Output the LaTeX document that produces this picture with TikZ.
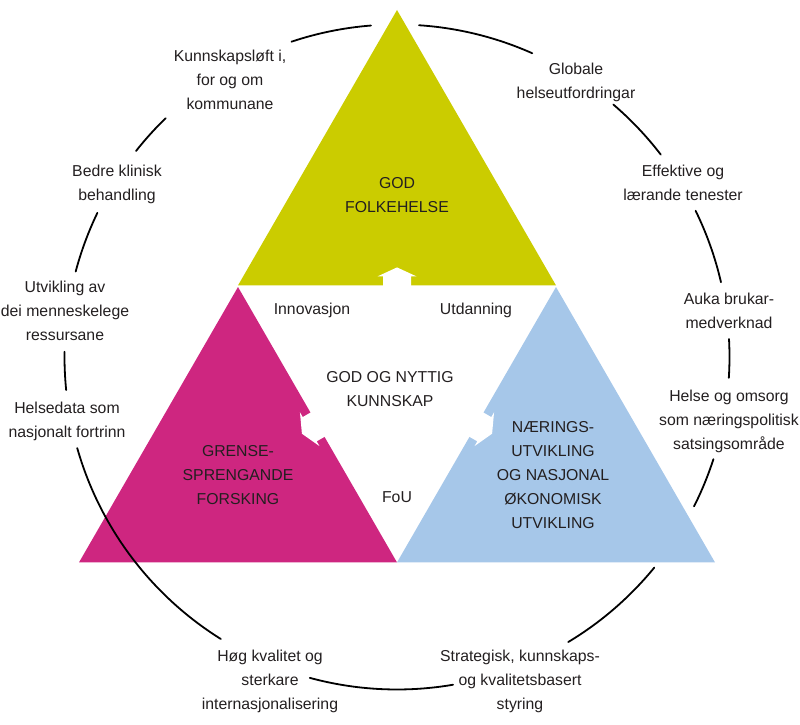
\documentclass[tikz,border=0pt]{standalone}
\usepackage{fontspec}
\setmainfont{Liberation Sans}
\usetikzlibrary{calc}
\definecolor{gul}{RGB}{203,204,0}
\definecolor{mag}{RGB}{206,38,128}
\definecolor{bla}{RGB}{166,199,233}
\definecolor{ink}{RGB}{35,31,32}
\newcommand\ringarc[2]{\draw[ring] ([shift={(-#1:332.5)}]C) arc[start angle=-#1, end angle=-#2, radius=332.5];}
\begin{document}
\begin{tikzpicture}[x=1pt,y=-1pt,
  font=\fontsize{15.8}{24}\selectfont,
  every node/.style={text=ink, align=center, inner sep=0pt},
  ring/.style={line width=1.8pt, line cap=round},
  notch/.pic={\fill[white] (-14,1) -- (-14,-9) -- (-19.5,-9) -- (0,-18) -- (19.5,-9) -- (14,-9) -- (14,1) -- cycle;}]
\useasboundingbox (0,0) rectangle (800,725);
\coordinate (C) at (397,357);
% triangles
\fill[gul] (397,10) -- (556,285.4) -- (238,285.4) -- cycle;
\fill[mag] (238,287) -- (397,562.4) -- (79,562.4) -- cycle;
\fill[bla] (556,287) -- (715,562.4) -- (397,562.4) -- cycle;
% white arrows
\pic at (397,285.4) {notch};
\pic[rotate=120] at (317.5,424.7) {notch};
\pic[rotate=-120] at (476.5,424.7) {notch};
% ring
\ringarc{94.5}{108.5}
\ringarc{66}{86.2}
\ringarc{37.5}{49.4}
\ringarc{13}{26.1}
\ringarc{-3.6}{3.1}
\ringarc{-26.7}{-17.9}
\ringarc{-59}{-39.3}
\ringarc{-105.2}{-80.3}
\ringarc{-164.1}{-122}
\ringarc{179.1}{185.7}
\ringarc{154.3}{165.1}
\ringarc{134.1}{141.7}
% ring labels
\node (k1) at (230,80) {Kunnskapsløft i,\\for og om\\kommunane};
\node (k2) at (576,82) {Globale\\helseutfordringar};
\node (k3) at (683,183) {Effektive og\\lærande tenester};
\node (k4) at (729,311) {Auka brukar-\\medverknad};
\node (k5) at (729,421) {Helse og omsorg\\som næringspolitisk\\satsingsområde};
\node (k6) at (520,681) {Strategisk, kunnskaps-\\og kvalitetsbasert\\styring};
\node (k7) at (270,681) {Høg kvalitet og\\sterkare\\internasjonalisering};
\node (k8) at (67,421) {Helsedata som\\nasjonalt fortrinn};
\node (k9) at (65,311) {Utvikling av\\dei menneskelege\\ressursane};
\node (k10) at (117,184) {Bedre klinisk\\behandling};
% triangle texts
\node (t1) at (397,195) {GOD\\FOLKEHELSE};
\node (t2) at (238,475) {GRENSE-\\SPRENGANDE\\FORSKING};
\node (t3) at (553,475) {NÆRINGS-\\UTVIKLING\\OG NASJONAL\\ØKONOMISK\\UTVIKLING};
\node (c1) at (312,310) {Innovasjon};
\node (c2) at (476,310) {Utdanning};
\node (c3) at (390,389) {GOD OG NYTTIG\\KUNNSKAP};
\node (c4) at (397,497) {FoU};
\end{tikzpicture}
\end{document}
